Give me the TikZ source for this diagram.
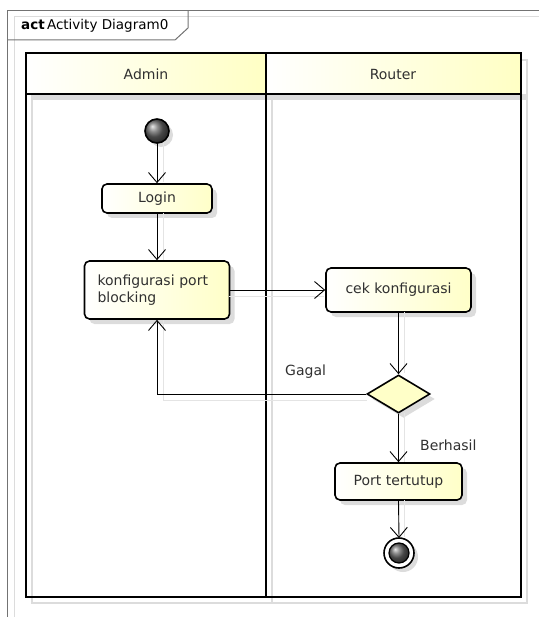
\documentclass[tikz,border=0pt]{standalone}
\usepackage{fontspec}
\setmainfont{DejaVu Sans}
\usetikzlibrary{arrows.meta,shapes.geometric,shadows}
\definecolor{boxyel}{HTML}{FFFFC8}
\definecolor{hdryel}{HTML}{FFFFC4}
\definecolor{shad}{HTML}{DCDCDC}
\definecolor{eshad}{HTML}{E4E4E4}
\definecolor{txt}{HTML}{303030}
\tikzset{
  x=1pt, y=-1pt,
  every node/.style={font=\fontsize{14}{16.5}\selectfont, text=txt},
  shd/.style={drop shadow={shadow xshift=5pt, shadow yshift=-5pt, fill=shad, opacity=1}},
  actbox/.style={draw=black, line width=1.6pt, rounded corners=5pt, left color=white, right color=boxyel, shd, inner sep=0pt},
  flow/.style={draw=black, line width=0.9pt, -{Straight Barb[length=10pt, width=17pt, line width=0.9pt]}},
  flowshd/.style={draw=eshad, line width=1pt},
  lane/.style={draw=black, line width=2pt},
}
\begin{document}
\begin{tikzpicture}
\useasboundingbox (0,0) rectangle (539,617);
% outer frame
\draw[shad, line width=1pt] (14,617) -- (14,17) -- (539,17);
\draw[black!55, line width=1pt] (7,617) -- (7,11) -- (539,11);
\draw[black!55, line width=1pt] (7,40) -- (175,40) -- (188,28) -- (188,11);
\node[anchor=west, inner sep=0pt, font=\fontsize{13.5}{15}\selectfont, text=black] (title) at (21,26) {\textbf{act}\,Activity Diagram0};
% swimlane shadows
\fill[shad] (32,94) rectangle (527,100);
\draw[shad, line width=2pt] (32,60) rectangle (527,603);
\draw[shad, line width=2pt] (272,60) -- (272,603);
% headers
\shade[left color=white, right color=hdryel] (26,53) rectangle (266,94);
\shade[left color=white, right color=hdryel] (266,53) rectangle (521,94);
\draw[lane] (26,53) rectangle (521,597);
\draw[lane] (26,94) -- (521,94);
\draw[lane] (266,53) -- (266,597);
\node (admin) at (146,74) {Admin};
\node (router) at (393,74) {Router};
% nodes
\shade[ball color=black!60, drop shadow={shadow xshift=4pt, shadow yshift=-4pt, fill=shad, opacity=1}] (157,131) circle (12);
\draw[black, line width=1.6pt] (157,131) circle (12);
\coordinate (start) at (157,131);
\node[actbox, minimum width=110pt, minimum height=29pt] (login) at (157,198.5) {Login};
\node[actbox, minimum width=145pt, minimum height=58pt, text width=119pt, inner xsep=13pt, align=left] (konf) at (157,290) {konfigurasi port\\blocking};
\node[actbox, minimum width=145pt, minimum height=44pt] (cek) at (398.5,290) {cek konfigurasi};
\node[diamond, draw=black, line width=1.6pt, fill=boxyel, minimum width=63pt, minimum height=38pt, inner sep=0pt, shd] (dec) at (398.5,394) {};
\node[actbox, minimum width=127pt, minimum height=37pt] (port) at (398.5,481.5) {Port tertutup};
\fill[shad] (403,557) circle (15);
\draw[black, line width=1.6pt, fill=white] (399,553) circle (15);
\shade[ball color=black!60] (399,553) circle (10);
\draw[black, line width=1.2pt] (399,553) circle (10);
\coordinate (endc) at (399,538);
% edge shadows
\draw[flowshd] (163,143) -- (163,182);
\draw[flowshd] (163,213) -- (163,260);
\draw[flowshd] (229,296) -- (324,296);
\draw[flowshd] (404,312) -- (404,373);
\draw[flowshd] (367,400) -- (163,400) -- (163,320);
\draw[flowshd] (404,413) -- (404,462);
\draw[flowshd] (404,500) -- (404,537);
% edges
\draw[flow] (157,143) -- (login.north);
\draw[flow] (login.south) -- (konf.north);
\draw[flow] (konf.east) -- (cek.west);
\draw[flow] (cek.south) -- (dec.north);
\draw[flow] (dec.west) -| (konf.south);
\draw[flow] (dec.south) -- (port.north);
\draw[flow] (port.south) -- (endc);
\node[anchor=west, inner sep=0pt] (gagal) at (285,372) {Gagal};
\node[anchor=west, inner sep=0pt] (berhasil) at (420,445) {Berhasil};
\end{tikzpicture}
\end{document}
